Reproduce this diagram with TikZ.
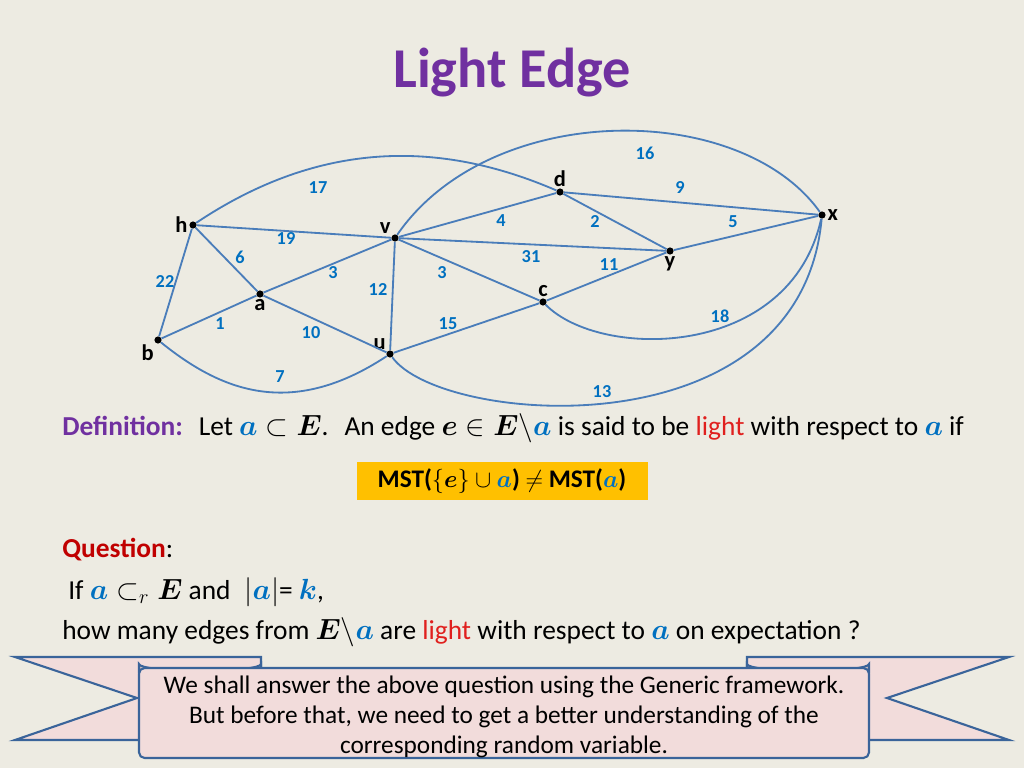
\documentclass[tikz,border=0pt]{standalone}
\usepackage{amsmath,amssymb}
\usepackage{fontspec}
\setmainfont{Carlito}
\usetikzlibrary{positioning}
\definecolor{bgcol}{HTML}{EDEBE2}
\definecolor{edgecol}{HTML}{4A7DBA}
\definecolor{wcol}{HTML}{0070C0}
\definecolor{titlecol}{HTML}{7030A0}
\definecolor{lightred}{HTML}{E0201E}
\definecolor{qred}{HTML}{C00000}
\definecolor{boxyellow}{HTML}{FFC000}
\definecolor{ribbon}{HTML}{F2DCDB}
\definecolor{ribbonline}{HTML}{3A649A}
\newcommand{\va}{\textcolor{wcol}{\boldsymbol{a}}}
\newcommand{\vE}{\boldsymbol{E}}
\newcommand{\ve}{\boldsymbol{e}}
\tikzset{
  vtx/.style={circle, fill=black, inner sep=1.8pt},
  edge/.style={draw=edgecol, line width=1.3pt},
  wt/.style={text=wcol, font=\fontsize{13}{14}\selectfont\bfseries},
  vname/.style={font=\fontsize{16}{17}\selectfont\bfseries, inner sep=1pt},
  body/.style={anchor=west, font=\fontsize{19.5}{22}\selectfont, inner sep=0pt}
}
\begin{document}
\begin{tikzpicture}[x=0.025cm, y=-0.025cm]
    \fill[bgcol] (0,0) rectangle (1024,768);
    \useasboundingbox (0,0) rectangle (1024,768);
    
    \node[font=\fontsize{40}{44}\selectfont\bfseries, text=titlecol] (title) at (512,73) {Light Edge};
    
    % vertices
    \node[vtx, label={[vname]left:h}] (h) at (193,225) {};
    \node[vtx, label={[vname]above left:v}] (v) at (395,238) {};
    \node[vtx, label={[vname]above:d}] (d) at (560,192) {};
    \node[vtx, label={[vname]right:x}] (x) at (822,215) {};
    \node[vtx, label={[vname]below:y}] (y) at (670,251) {};
    \node[vtx, label={[vname]above:c}] (c) at (543,302) {};
    \node[vtx, label={[vname]below:a}] (a) at (260,294) {};
    \node[vtx, label={[vname]below left:b}] (b) at (158,340) {};
    \node[vtx, label={[vname]above left:u}] (u) at (390,354) {};
    
    % edges
    \draw[edge] (h) .. controls (320,140) and (440,140) .. (d);
    \draw[edge] (v) .. controls (490,100) and (740,100) .. (x);
    \draw[edge] (d) -- (x);
    \draw[edge] (h) -- (v);
    \draw[edge] (v) -- (d);
    \draw[edge] (d) -- (y);
    \draw[edge] (y) -- (x);
    \draw[edge] (v) -- (y);
    \draw[edge] (h) -- (a);
    \draw[edge] (a) -- (v);
    \draw[edge] (v) -- (c);
    \draw[edge] (v) -- (u);
    \draw[edge] (c) -- (y);
    \draw[edge] (a) -- (u);
    \draw[edge] (b) -- (a);
    \draw[edge] (b) -- (h);
    \draw[edge] (b) .. controls (220,390) and (290,420) .. (u);
    \draw[edge] (u) -- (c);
    \draw[edge] (c) .. controls (600,360) and (790,360) .. (x);
    \draw[edge] (u) .. controls (440,425) and (800,455) .. (x);
    
    % weights
    \node[wt] at (318,188) {17};
    \node[wt] at (645,153) {16};
    \node[wt] at (680,188) {9};
    \node[wt] at (501,221) {4};
    \node[wt] at (595,222) {2};
    \node[wt] at (733,222) {5};
    \node[wt] at (286,239) {19};
    \node[wt] at (531,257) {31};
    \node[wt] at (609,265) {11};
    \node[wt] at (240,257) {6};
    \node[wt] at (333,273) {3};
    \node[wt] at (442,273) {3};
    \node[wt] at (165,282) {22};
    \node[wt] at (378,290) {12};
    \node[wt] at (220,324) {1};
    \node[wt] at (311,333) {10};
    \node[wt] at (448,324) {15};
    \node[wt] at (280,377) {7};
    \node[wt] at (720,316) {18};
    \node[wt] at (602,392) {13};
    
    % text
    \node[body] (defn) at (62,428) {\textcolor{titlecol}{\textbf{Definition:}}\; Let $\va \subset \vE$.\; An edge $\ve \in \vE\backslash\va$ is said to be \textcolor{lightred}{light} with respect to $\va$ if};
    \node[fill=boxyellow, minimum width=291*0.025cm, minimum height=38*0.025cm, font=\fontsize{18}{20}\selectfont\bfseries] (mst) at (502,481) {MST($\{\ve\}\cup\va$) $\neq$ MST($\va$)};
    \node[body] (quest) at (62,550) {\textcolor{qred}{\textbf{Question}}:};
    \node[body] (cond) at (68,592) {If $\va \subset_r \vE$ and\; $|\va|$= $\textcolor{wcol}{\boldsymbol{k}}$,};
    \node[body] (how) at (62,632) {how many edges from $\vE\backslash\va$ are \textcolor{lightred}{light} with respect to $\va$ on expectation ?};
    
    % ribbon
    \filldraw[fill=ribbon, draw=ribbonline, line width=1.5pt, line join=miter] (15,657) -- (261,657) -- (261,740) -- (15,740) -- (137,698) -- cycle;
    \filldraw[fill=ribbon, draw=ribbonline, line width=1.5pt, line join=miter] (1009,657) -- (747,657) -- (747,740) -- (1009,740) -- (887,698) -- cycle;
    \filldraw[fill=ribbon!70!gray, draw=ribbonline, line width=1.5pt] (139,672) -- (139,664) arc[start angle=180, end angle=0, x radius=61, y radius=7] -- (261,672) -- cycle;
    \filldraw[fill=ribbon!70!gray, draw=ribbonline, line width=1.5pt] (747,672) -- (747,664) arc[start angle=180, end angle=0, x radius=61, y radius=7] -- (869,672) -- cycle;
    \filldraw[fill=ribbon, draw=ribbonline, line width=1.5pt, rounded corners=4pt] (139,668) rectangle (869,758);
    \node[align=center, font=\fontsize{18}{21.5}\selectfont] (note) at (504,717) {We shall answer the above question using the Generic framework.\\But before that, we need to get a better understanding of the\\corresponding random variable.};
\end{tikzpicture}
\end{document}
